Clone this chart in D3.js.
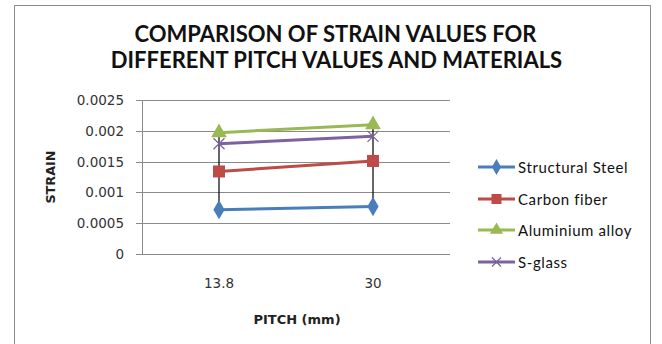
<!DOCTYPE html>
<html><head><meta charset="utf-8">
<script src="https://d3js.org/d3.v7.min.js"></script>
<style>body{margin:0;background:#fff}svg{display:block}</style>
</head><body>
<script>
const categories = ["13.8", "30"];
const seriesNames = ["Structural Steel", "Carbon fiber", "Aluminium alloy", "S-glass"];
const steel = [0.00072, 0.00077];
const carbon = [0.00134, 0.00151];
const aluminium = [0.00197, 0.00210];
const sglass = [0.00179, 0.00191];
const yTicks = [0, 0.0005, 0.001, 0.0015, 0.002, 0.0025];
const colors = ["#4A7EBB", "#BE4B48", "#98B954", "#7D60A0"];
const symbols = ["diamond", "square", "triangle", "x"];
const seriesValues = [steel, carbon, aluminium, sglass];

const W = 662, H = 344;
const svg = d3.select("body").append("svg").attr("width", W).attr("height", H);

// outer border
svg.append("rect").attr("x", 14.5).attr("y", 5.5).attr("width", 636).attr("height", 345)
  .attr("fill", "#fff").attr("stroke", "#8c8c8c").attr("stroke-width", 1);

const plot = {left: 142, top: 100, right: 450, bottom: 254};
const x = d3.scaleBand().domain(categories).range([plot.left, plot.right]);
const y = d3.scaleLinear().domain([0, 0.0025]).range([plot.bottom, plot.top]);
const cx = c => x(c) + x.bandwidth() / 2;

// title
const title = svg.append("text").attr("text-anchor", "middle")
  .attr("font-family", "Lato, 'Open Sans', sans-serif").attr("font-weight", "bold")
  .attr("font-size", 22).attr("fill", "#111");
title.append("tspan").attr("x", 335.5).attr("y", 42).text("COMPARISON OF STRAIN VALUES FOR");
title.append("tspan").attr("x", 336.5).attr("y", 68).text("DIFFERENT PITCH VALUES AND MATERIALS");

// gridlines
svg.append("g").selectAll("line").data(yTicks).join("line")
  .attr("x1", plot.left - 6).attr("x2", plot.right)
  .attr("y1", d => Math.round(y(d)) + 0.5).attr("y2", d => Math.round(y(d)) + 0.5)
  .attr("stroke", "#8a8a8a").attr("stroke-width", 1);

// y axis line
svg.append("line").attr("x1", plot.left + 0.5).attr("x2", plot.left + 0.5)
  .attr("y1", plot.top).attr("y2", plot.bottom + 0.5).attr("stroke", "#8a8a8a");

// y tick labels
const fmt = d => d === 0 ? "0" : String(+d.toFixed(4));
svg.append("g").selectAll("text").data(yTicks).join("text")
  .attr("x", 124).attr("y", d => y(d) + 5).attr("text-anchor", "end")
  .attr("font-family", "'DejaVu Sans', sans-serif").attr("font-size", 13.5).attr("fill", "#333")
  .text(fmt);

// x tick labels
svg.append("g").selectAll("text").data(categories).join("text")
  .attr("x", d => cx(d)).attr("y", 288).attr("text-anchor", "middle")
  .attr("font-family", "'DejaVu Sans', sans-serif").attr("font-size", 13.5).attr("fill", "#333")
  .text(d => d);

// axis titles
svg.append("text").attr("x", 297).attr("y", 324).attr("text-anchor", "middle")
  .attr("font-family", "'DejaVu Sans', sans-serif").attr("font-weight", "bold").attr("font-size", 13)
  .attr("fill", "#222").text("PITCH (mm)");
svg.append("text").attr("transform", "translate(55,177) rotate(-90)").attr("text-anchor", "middle")
  .attr("font-family", "'DejaVu Sans', sans-serif").attr("font-weight", "bold").attr("font-size", 12.8)
  .attr("fill", "#222").text("STRAIN");

// high-low drop lines
svg.append("g").selectAll("line").data(categories).join("line")
  .attr("x1", d => cx(d)).attr("x2", d => cx(d))
  .attr("y1", (d, i) => y(d3.max(seriesValues, s => s[i])))
  .attr("y2", (d, i) => y(d3.min(seriesValues, s => s[i])))
  .attr("stroke", "#000").attr("stroke-width", 1.2);

function marker(g, type, color, px, py, s) {
  if (type === "diamond") {
    g.append("path").attr("d", d3.symbol(d3.symbolDiamond, s * s * 0.9)()).attr("transform", `translate(${px},${py})`).attr("fill", color);
  } else if (type === "square") {
    g.append("rect").attr("x", px - s / 2).attr("y", py - s / 2).attr("width", s).attr("height", s).attr("fill", color);
  } else if (type === "triangle") {
    g.append("path").attr("d", d3.symbol(d3.symbolTriangle, s * s * 0.75)()).attr("transform", `translate(${px},${py})`).attr("fill", color);
  } else {
    const h = s / 2;
    g.append("path").attr("d", `M${px - h},${py - h}L${px + h},${py + h}M${px - h},${py + h}L${px + h},${py - h}`)
      .attr("stroke", color).attr("stroke-width", 1.2).attr("fill", "none");
  }
}

const line = d3.line().x((d, i) => cx(categories[i])).y(d => y(d));
const sizes = [11, 12, 12, 11];
seriesValues.forEach((vals, si) => {
  const g = svg.append("g");
  g.append("path").attr("d", line(vals)).attr("fill", "none").attr("stroke", colors[si]).attr("stroke-width", 3);
  vals.forEach((v, i) => marker(g, symbols[si], colors[si], cx(categories[i]), y(v), sizes[si]));
});

// legend
const legY = [167, 199, 230, 262];
seriesNames.forEach((n, i) => {
  const g = svg.append("g");
  g.append("line").attr("x1", 478).attr("x2", 515).attr("y1", legY[i]).attr("y2", legY[i])
    .attr("stroke", colors[i]).attr("stroke-width", 3);
  marker(g, symbols[i], colors[i], 496.5, legY[i], sizes[i] - 2);
  g.append("text").attr("x", 518).attr("y", legY[i] + 5.5)
    .attr("font-family", "Lato, 'Open Sans', sans-serif").attr("font-size", 15)
    .attr("letter-spacing", 0.6).attr("fill", "#111")
    .text(n);
});
</script>
</body></html>
